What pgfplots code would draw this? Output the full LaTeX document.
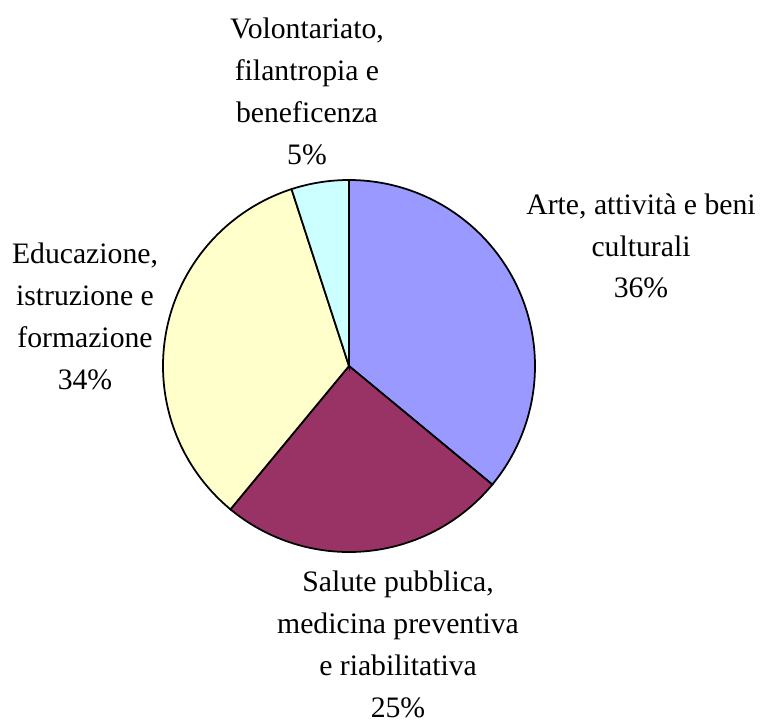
\documentclass[border=0pt]{standalone}
\usepackage{pgfplots}
\pgfplotsset{compat=1.18}
\usepackage{fontspec}
\setmainfont{Liberation Serif}
\definecolor{arte}{HTML}{9999FF}
\definecolor{salute}{HTML}{993366}
\definecolor{educ}{HTML}{FFFFCC}
\definecolor{volont}{HTML}{CCFFFF}
\begin{document}
\begin{tikzpicture}[
    slice/.style={draw=black, line width=1pt, samples=120, smooth},
    lbl/.style={align=center, font=\fontsize{16.9pt}{23.8pt}\selectfont},
]
\begin{axis}[
    width=15.2cm,
    height=14.44cm,
    scale only axis,
    xmin=0, xmax=760,
    ymin=0, ymax=722,
    hide axis,
    clip=false,
]
% shares: 36, 25, 34, 5 percent; clockwise from 12 o'clock
\addplot[slice, fill=arte, domain=-39.6:90] ({349+186*cos(x)},{356+186*sin(x)}) -- (axis cs:349,356) -- cycle;
\addplot[slice, fill=salute, domain=-129.6:-39.6] ({349+186*cos(x)},{356+186*sin(x)}) -- (axis cs:349,356) -- cycle;
\addplot[slice, fill=educ, domain=-252:-129.6] ({349+186*cos(x)},{356+186*sin(x)}) -- (axis cs:349,356) -- cycle;
\addplot[slice, fill=volont, domain=-270:-252] ({349+186*cos(x)},{356+186*sin(x)}) -- (axis cs:349,356) -- cycle;

\node[lbl] at (axis cs:641,476) {Arte, attività e beni\\culturali\\36\%};
\node[lbl] at (axis cs:398,77.5) {Salute pubblica,\\medicina preventiva\\e riabilitativa\\25\%};
\node[lbl] at (axis cs:85,405.5) {Educazione,\\istruzione e\\formazione\\34\%};
\node[lbl] at (axis cs:307,630.5) {Volontariato,\\filantropia e\\beneficenza\\5\%};
\end{axis}
\pgfresetboundingbox
\path[use as bounding box] (current axis.south west) rectangle (current axis.north east);
\end{tikzpicture}
\end{document}
